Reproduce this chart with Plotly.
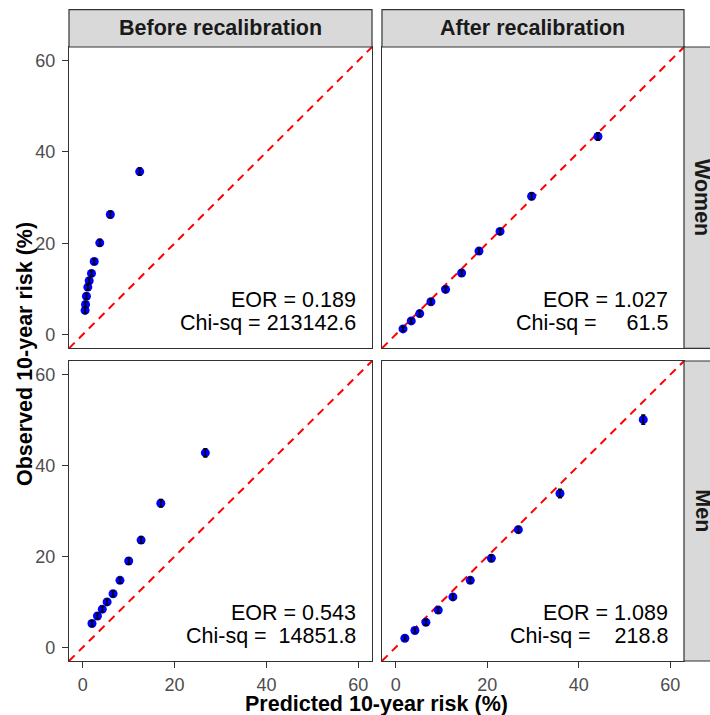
import plotly.graph_objects as go

# ---------------- data ----------------
col_labels = ["Before recalibration", "After recalibration"]
row_labels = ["Women", "Men"]

women_before_pred = [0.5, 0.6, 0.8, 1.1, 1.4, 1.9, 2.5, 3.7, 6.0, 12.4]
women_before_obs = [5.3, 6.6, 8.4, 10.4, 11.8, 13.4, 16.0, 20.1, 26.3, 35.7]
women_before_ci = [0.6, 0.6, 0.6, 0.6, 0.6, 0.6, 0.6, 0.7, 0.7, 0.8]

women_after_pred = [1.6, 3.4, 5.25, 7.7, 10.9, 14.4, 18.2, 22.8, 29.7, 44.2]
women_after_obs = [1.25, 3.0, 4.6, 7.2, 9.9, 13.5, 18.3, 22.6, 30.3, 43.4]
women_after_ci = [0.5, 0.5, 0.6, 0.6, 0.6, 0.6, 0.6, 0.6, 0.7, 0.8]

men_before_pred = [2.0, 3.2, 4.25, 5.3, 6.6, 8.1, 10.0, 12.7, 17.0, 26.7]
men_before_obs = [5.25, 6.9, 8.4, 10.0, 11.8, 14.75, 19.0, 23.6, 31.7, 42.8]
men_before_ci = [0.6, 0.6, 0.6, 0.6, 0.6, 0.6, 0.7, 0.7, 0.8, 0.9]

men_after_pred = [2.0, 4.2, 6.6, 9.3, 12.5, 16.3, 20.9, 26.8, 35.9, 54.1]
men_after_obs = [2.0, 3.7, 5.5, 8.2, 11.1, 14.75, 19.6, 25.9, 33.85, 50.1]
men_after_ci = [0.5, 0.5, 0.6, 0.6, 0.6, 0.6, 0.7, 0.7, 0.9, 1.0]

eor_values = [[0.189, 1.027], [0.543, 1.089]]
chisq_values = [[213142.6, 61.5], [14851.8, 218.8]]

tick_values = [0, 20, 40, 60]
axis_range = [-3, 63]
eor_label_x = 60
eor_label_y = [7.6, 2.5]

x_title = "Predicted 10-year risk (%)"
y_title = "Observed 10-year risk (%)"

# ---------------- layout ----------------
W, H = 710, 715
ML, MR, MT, MB = 69, 26, 47, 54
PW, PH = W - ML - MR, H - MT - MB

FONT = "Liberation Sans, Arial, sans-serif"
BORDER = "#333333"
STRIP = "#D9D9D9"

xdoms = [[0.0, 0.4927], [0.5089, 1.0]]
ydoms = [[0.5093, 1.0], [0.0, 0.4886]]

panels = [
    [(women_before_pred, women_before_obs, women_before_ci),
     (women_after_pred, women_after_obs, women_after_ci)],
    [(men_before_pred, men_before_obs, men_before_ci),
     (men_after_pred, men_after_obs, men_after_ci)],
]

fig = go.Figure()
layout = dict(
    width=W, height=H,
    margin=dict(l=ML, r=MR, t=MT, b=MB, pad=0),
    paper_bgcolor="white", plot_bgcolor="white",
    showlegend=False,
    font=dict(family=FONT, color="black"),
)
shapes = []
annotations = []

k = 0
for r in range(2):
    for c in range(2):
        k += 1
        xa = "x" if k == 1 else f"x{k}"
        ya = "y" if k == 1 else f"y{k}"
        xkey = "xaxis" if k == 1 else f"xaxis{k}"
        ykey = "yaxis" if k == 1 else f"yaxis{k}"
        px, py, ci = panels[r][c]

        # reference line y = x spanning the panel
        fig.add_trace(go.Scatter(
            x=axis_range, y=axis_range, xaxis=xa, yaxis=ya, mode="lines",
            line=dict(color="#FF0000", width=2, dash="8px,6px"),
            hoverinfo="skip", cliponaxis=True))
        # points
        fig.add_trace(go.Scatter(
            x=px, y=py, xaxis=xa, yaxis=ya, mode="markers",
            marker=dict(color="#0000FF", size=9, line=dict(width=0))))
        # error bars drawn above the points
        fig.add_trace(go.Scatter(
            x=px, y=py, xaxis=xa, yaxis=ya, mode="markers",
            marker=dict(color="rgba(0,0,0,0)", size=1),
            error_y=dict(type="data", array=ci, color="black",
                         thickness=1.6, width=2)))

        common = dict(
            range=axis_range, showgrid=False, zeroline=False,
            showline=True, mirror=True, linecolor=BORDER, linewidth=1.2,
            tickvals=tick_values, fixedrange=True,
            tickfont=dict(family=FONT, size=18, color="#4D4D4D"),
        )
        layout[xkey] = dict(
            common, domain=xdoms[c], anchor=ya,
            ticks="outside" if r == 1 else "", ticklen=6, tickwidth=1.1,
            tickcolor=BORDER, showticklabels=(r == 1), ticklabelstandoff=1)
        layout[ykey] = dict(
            common, domain=ydoms[r], anchor=xa,
            ticks="outside" if c == 0 else "", ticklen=6, tickwidth=1.1,
            tickcolor=BORDER, showticklabels=(c == 0), ticklabelstandoff=3)

        # EOR / Chi-sq labels
        chi_txt = f"{chisq_values[r][c]:.1f}"
        pad = "\u00a0" * (8 - len(chi_txt))
        annotations.append(dict(
            x=eor_label_x, y=eor_label_y[0], xref=xa, yref=ya,
            text=f"EOR = {eor_values[r][c]:.3f}", showarrow=False,
            xanchor="right", yanchor="middle",
            font=dict(family=FONT, size=21.5, color="black")))
        annotations.append(dict(
            x=eor_label_x, y=eor_label_y[1], xref=xa, yref=ya,
            text=f"Chi-sq = {pad}{chi_txt}", showarrow=False,
            xanchor="right", yanchor="middle",
            font=dict(family=FONT, size=21.5, color="black")))

# column strips (top)
strip_h = 37.3 / PH
for c in range(2):
    shapes.append(dict(type="rect", xref="paper", yref="paper",
                       x0=xdoms[c][0], x1=xdoms[c][1], y0=1.0, y1=1.0 + strip_h,
                       fillcolor=STRIP, line=dict(color=BORDER, width=1.2)))
    annotations.append(dict(
        x=(xdoms[c][0] + xdoms[c][1]) / 2, y=1.0 + strip_h / 2,
        xref="paper", yref="paper", text=f"<b>{col_labels[c]}</b>",
        showarrow=False, xanchor="center", yanchor="middle",
        font=dict(family=FONT, size=21.5, color="#1A1A1A")))

# row strips (right)
strip_w = 37.3 / PW
for r in range(2):
    shapes.append(dict(type="rect", xref="paper", yref="paper",
                       x0=1.0, x1=1.0 + strip_w, y0=ydoms[r][0], y1=ydoms[r][1],
                       fillcolor=STRIP, line=dict(color=BORDER, width=1.2)))
    annotations.append(dict(
        x=1.0 + strip_w / 2, y=(ydoms[r][0] + ydoms[r][1]) / 2,
        xref="paper", yref="paper", text=f"<b>{row_labels[r]}</b>",
        showarrow=False, xanchor="center", yanchor="middle", textangle=90,
        font=dict(family=FONT, size=21.5, color="#1A1A1A")))

# axis titles
annotations.append(dict(
    x=(376.5 - ML) / PW, y=(H - MB - 704) / PH, xref="paper", yref="paper",
    text=f"<b>{x_title}</b>", showarrow=False, xanchor="center", yanchor="middle",
    font=dict(family=FONT, size=21.5, color="black")))
annotations.append(dict(
    x=(25 - ML) / PW, y=(H - MB - 354) / PH, xref="paper", yref="paper",
    text=f"<b>{y_title}</b>", showarrow=False, xanchor="center", yanchor="middle",
    textangle=-90, font=dict(family=FONT, size=21.5, color="black")))

layout["shapes"] = shapes
layout["annotations"] = annotations
fig.update_layout(**layout)
fig.write_html("out.html",
               config={"displayModeBar": False},
               post_script="document.body.style.margin='0px';"
                           "document.body.style.overflow='hidden';")
